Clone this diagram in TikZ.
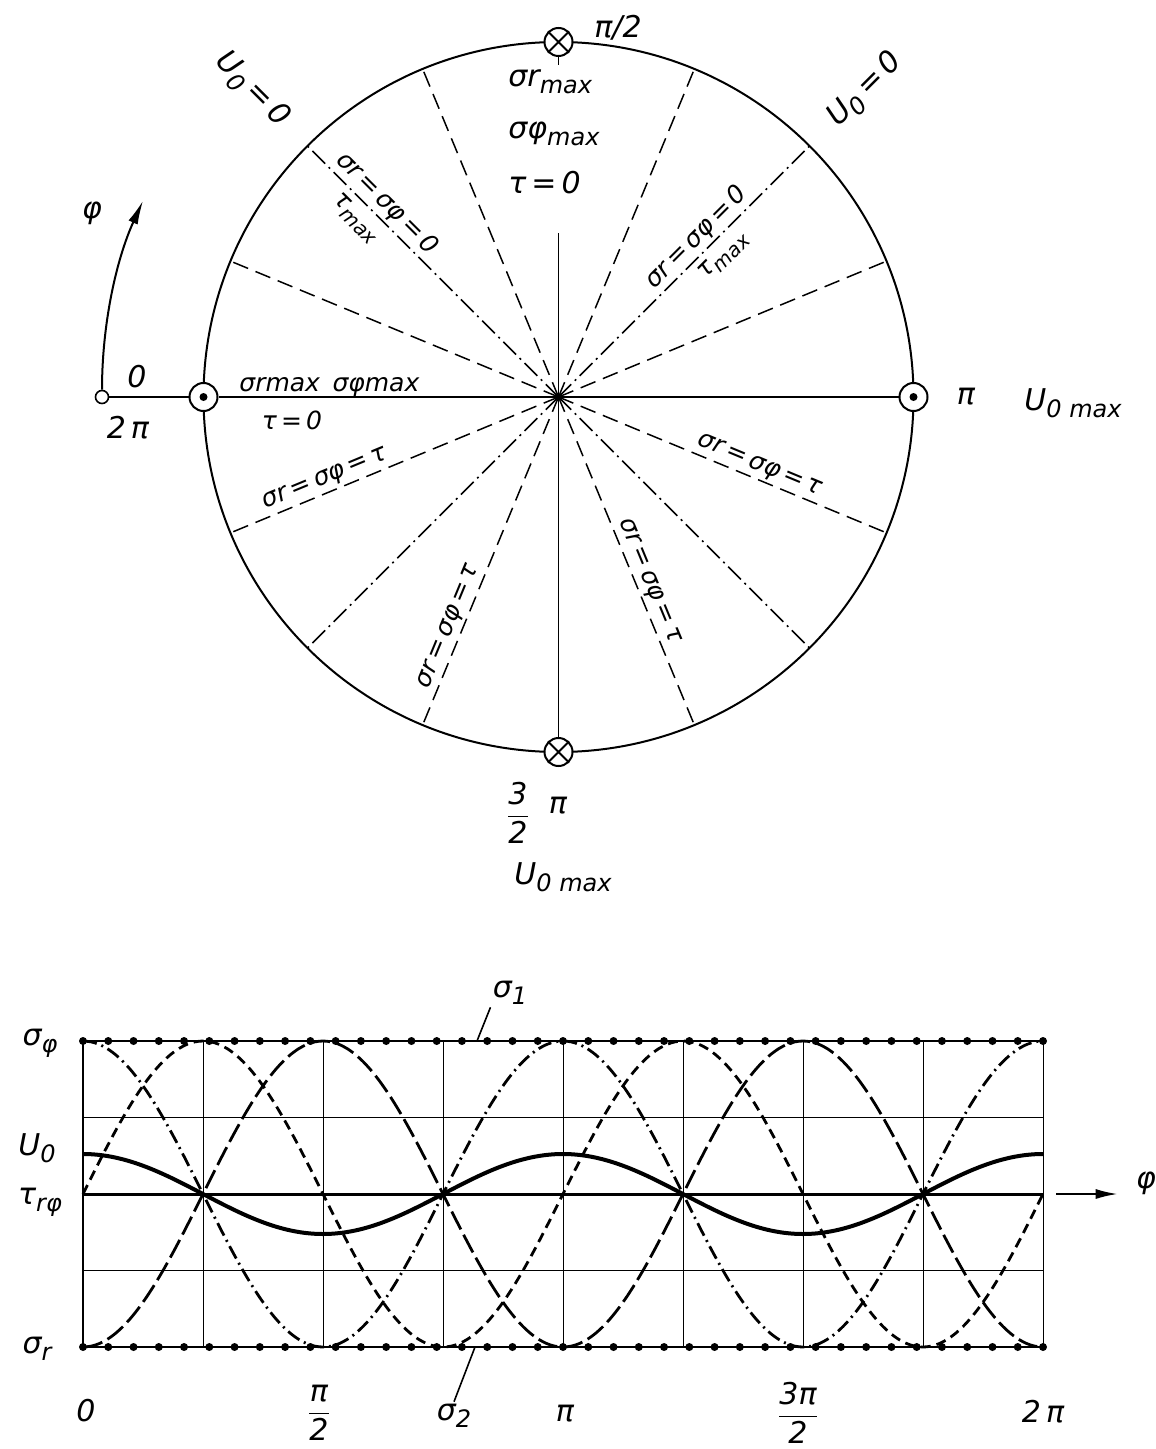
\documentclass[tikz,border=0pt]{standalone}
\usepackage{amsmath}
\usepackage{fontspec}
\setmainfont{DejaVu Sans}
\usetikzlibrary{calc,arrows.meta}

\newcommand{\lowsub}[1]{\raisebox{-0.45ex}{\scalebox{0.8}{#1}}}

\tikzset{
  lbl/.style={font=\fontsize{15}{17}\selectfont\itshape, inner sep=1pt},
  slbl/.style={font=\fontsize{12.5}{14}\selectfont\itshape, inner sep=1.5pt},
  rim/.style={line width=1pt},
  radial/.style={line width=0.75pt},
  radial dash/.style={radial, dash pattern=on 8pt off 4pt},
  radial dashdot/.style={radial, dash pattern=on 9pt off 2.5pt on 1pt off 2.5pt},
  ringmark/.style={circle, draw, line width=1pt, fill=white, minimum size=14pt, inner sep=0pt},
  gridline/.style={line width=0.5pt},
  sigline/.style={line width=1pt},
  curve/.style={line width=1.4pt},
}

\begin{document}
\begin{tikzpicture}[x=0.5pt, y=-0.5pt]
  \useasboundingbox (0,0) rectangle (1155,1449);

  % circle of the rotating shaft
  \coordinate (C) at (558.5,397);
  \foreach \i in {0,...,15}
    \coordinate (R\i) at ($(C)+({\i*22.5}:355)$);
  \draw[rim] (C) circle[radius=355];
  \node[ringmark] (mR) at (R0) {};
  \node[ringmark] (mB) at (R4) {};
  \node[ringmark] (mL) at (R8) {};
  \node[ringmark] (mT) at (R12) {};
  \fill (mR) circle (2pt);
  \fill (mL) circle (2pt);
  \draw[line width=1pt] (mT.north east) -- (mT.south west) (mT.north west) -- (mT.south east);
  \draw[line width=1pt] (mB.north east) -- (mB.south west) (mB.north west) -- (mB.south east);

  % radial lines
  \foreach \i in {1,3,...,15}
    \draw[radial dash] (C) -- (R\i);
  \foreach \i in {2,6,10,14}
    \draw[radial dashdot] (C) -- (R\i);
  \coordinate (vtop) at (558.5,233);
  \draw[radial] (C) -- (mR);
  \draw[radial] (C) -- (mB);
  \draw[radial] (C) -- (mL);
  \draw[radial] (C) -- (vtop);
  \draw[radial] (mT.south) -- ++(0,8);

  % angle origin and sense of rotation
  \node[circle, draw, line width=0.8pt, fill=white, minimum size=6.5pt, inner sep=0pt] (o) at (102,397) {};
  \draw[radial] (mL) -- (o);
  \draw[line width=1pt, -{Latex[length=12pt,width=5pt]}] (o.north) arc[start angle=180, end angle=204.5, radius=456];
  \node[lbl] (phiarc) at (92,213) {φ};
  \node[lbl] (lzero) at (137,377) {0};
  \node[lbl] (ltwopi) at (128,428) {2\,π};

  % labels round the circle
  \node[lbl] (lpihalf) at (618,28) {π/2};
  \node[lbl] (lpi) at (966,397) {π};
  \node[lbl] (lumaxr) at (1073,403) {U\lowsub{0 max}};
  \node[lbl] (lthree) at (518,813) {$\dfrac{\text{3}}{\text{2}}$};
  \node[lbl] (lthreepi) at (558,806) {π};
  \node[lbl] (lumaxb) at (563,877) {U\lowsub{0 max}};
  \node[lbl, rotate=-45] (luzl) at ($(C)+(225:434)$) {U\lowsub{0}\,=\,0};
  \node[lbl, rotate=45] (luzr) at ($(C)+(315:434)$) {U\lowsub{0}\,=\,0};

  % labels inside the sectors
  \node[lbl, anchor=west] (tsr) at (506,82) {σr\lowsub{max}};
  \node[lbl, anchor=west] (tsf) at (506,134) {σφ\lowsub{max}};
  \node[lbl, anchor=west] (ttau) at (506,183) {τ\,=\,0};
  \node[slbl, anchor=base west] (lsec) at (236,391) {σrmax\enspace σφmax};
  \node[slbl] (ltau0) at (292,420) {τ\,=\,0};
  \path (R10) -- (C)
    node[slbl, sloped, anchor=south, pos=0.273] (ta) {σr\,=\,σφ\,=\,0}
    node[slbl, sloped, anchor=north, inner sep=3.5pt, pos=0.24] (tb) {τ\lowsub{max}};
  \path (C) -- (R14)
    node[slbl, sloped, anchor=south, pos=0.592] (tc) {σr\,=\,σφ\,=\,0}
    node[slbl, sloped, anchor=north, inner sep=3.5pt, pos=0.61] (td) {τ\lowsub{max}};
  \path (R7) -- (C) node[slbl, sloped, anchor=south, pos=0.304] (te) {σr\,=\,σφ\,=\,τ};
  \path (C) -- (R1) node[slbl, sloped, anchor=south, pos=0.597] (tf) {σr\,=\,σφ\,=\,τ};
  \path (R5) -- (C) node[slbl, sloped, anchor=south, pos=0.285] (tg) {σr\,=\,σφ\,=\,τ};
  \path (C) -- (R3) node[slbl, sloped, anchor=south, pos=0.577] (th) {σr\,=\,σφ\,=\,τ};

  % stresses over one turn
  \foreach \i in {1,...,7}
    \draw[gridline] ({83+120*\i},1041) -- ({83+120*\i},1347);
  \foreach \y in {1117.5,1270.5}
    \draw[gridline] (83,\y) -- (1043,\y);
  \draw[gridline] (1043,1041) -- (1043,1347);
  \draw[line width=1pt] (83,1041) -- (83,1347);
  \draw[sigline] (83,1041) -- (1043,1041);
  \draw[sigline] (83,1347) -- (1043,1347);
  \foreach \i in {0,...,38} {
    \fill ({83+25.2632*\i},1041) circle (2pt);
    \fill ({83+25.2632*\i},1347) circle (2pt);
  }
  \draw[curve, dash pattern=on 7pt off 2.5pt on 1pt off 2.5pt]
    plot[domain=0:360, samples=121, smooth] ({83+\x*8/3},{1194-153*cos(2*\x)});
  \draw[curve, dash pattern=on 10pt off 3pt]
    plot[domain=0:360, samples=121, smooth] ({83+\x*8/3},{1194+153*cos(2*\x)});
  \draw[curve, dash pattern=on 5pt off 3pt]
    plot[domain=0:360, samples=121, smooth] ({83+\x*8/3},{1194-153*sin(2*\x)});
  \draw[line width=2pt]
    plot[domain=0:360, samples=121, smooth] ({83+\x*8/3},{1194-40*cos(2*\x)});
  \draw[line width=1.5pt] (83,1194) -- (1043,1194);

  % axis arrow
  \coordinate (axstart) at (1056,1194);
  \node[lbl] (lphi) at (1146,1183) {φ};
  \draw[line width=1pt, -{Latex[length=11pt,width=5pt]}, shorten >=8pt] (axstart) -- (lphi.west |- axstart);

  % chart labels
  \node[lbl] (lsf) at (40,1043) {σ\lowsub{φ}};
  \node[lbl] (lu0) at (37,1148) {U\lowsub{0}};
  \node[lbl] (ltau) at (40,1202) {τ\lowsub{rφ}};
  \node[lbl] (lsr) at (37,1349) {σ\lowsub{r}};
  \node[lbl] (ax0) at (86,1411) {0};
  \node[lbl] (axpih) at (319,1413) {$\dfrac{\text{π}}{\text{2}}$};
  \node[lbl] (axpi) at (565,1414) {π};
  \node[lbl] (axtpih) at (798,1413) {$\dfrac{\text{3π}}{\text{2}}$};
  \node[lbl] (axtwopi) at (1043,1412) {2\,π};
  \node[lbl] (ls1) at (510,993) {σ\lowsub{1}};
  \node[lbl] (ls2) at (454,1416) {σ\lowsub{2}};
  \coordinate (s1foot) at (477,1041);
  \coordinate (s2foot) at (475,1347);
  \draw[line width=0.8pt] (s1foot) -- (ls1.south west);
  \draw[line width=0.8pt] (s2foot) -- (ls2.north);
\end{tikzpicture}
\end{document}
